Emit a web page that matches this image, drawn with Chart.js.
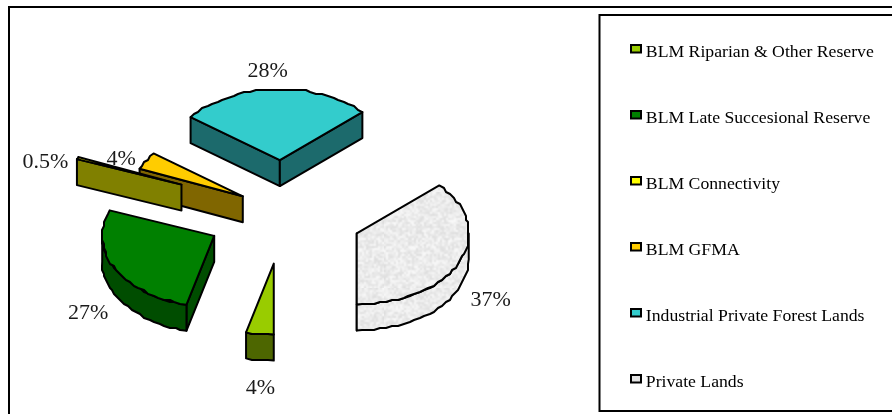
<!DOCTYPE html>
<html>
<head>
<meta charset="utf-8">
<style>
  html, body { margin: 0; padding: 0; background: #fff; }
  #wrap { width: 892px; height: 414px; }
</style>
<script src="https://cdn.jsdelivr.net/npm/chart.js@4"></script>
</head>
<body>
<div id="wrap"><canvas id="chart" width="892" height="414"></canvas></div>
<script>
// Land ownership shares, in legend order
const categories = [
  'BLM Riparian & Other Reserve',
  'BLM Late Succesional Reserve',
  'BLM Connectivity',
  'BLM GFMA',
  'Industrial Private Forest Lands',
  'Private Lands'
];
const shares = [4, 27, 0.5, 4, 28, 37];
const faceColors = ['#99CC00', '#008000', '#FFFF00', '#FFCC00', '#33CCCC', '#EBEBEB'];
const wallColors = ['#4D6600', '#004D00', '#808000', '#806600', '#1C6A6C', '#EFEFEF'];
const explode = [78, 78, 110, 47, 78, 80];
const labelAnchor = [[0, 53], [-30, 44], [-36, 5], [-28, -1], [-7, -17], [35, 38]];

const RX = 112, RY = 71, DEPTH = 26, TILT = 2 / 3;
const FIRST_SLICE_ANGLE = 180;
const SERIF = '"Liberation Serif", "Times New Roman", serif';

// Deterministic mottled tile for the stippled fill of the private-land slice
function mottledPattern() {
  const size = 96, coarse = document.createElement('canvas');
  coarse.width = coarse.height = size / 2;
  const c = coarse.getContext('2d');
  let seed = 12345;
  for (let y = 0; y < size / 2; y++) {
    for (let x = 0; x < size / 2; x++) {
      seed = (seed * 1103515245 + 12345) & 0x7fffffff;
      const g = 222 + ((seed >> 16) % 28);
      c.fillStyle = `rgb(${g},${g},${g})`;
      c.fillRect(x, y, 1, 1);
    }
  }
  const tile = document.createElement('canvas');
  tile.width = tile.height = size;
  const t = tile.getContext('2d');
  t.imageSmoothingEnabled = true;
  t.drawImage(coarse, 0, 0, size, size);
  return t.createPattern(tile, 'repeat');
}

// Small irregularities along an arc come from snapping to a coarse pixel grid
const snap = v => Math.round(v / 2) * 2;

function arcPoints(cx, cy, start, end, yShift) {
  const pts = [], steps = Math.max(2, Math.ceil((end - start) / 0.055));
  for (let i = 0; i <= steps; i++) {
    const a = start + (end - start) * i / steps;
    const edge = i === 0 || i === steps;
    const x = cx + Math.cos(a) * RX, y = cy + Math.sin(a) * RY + yShift;
    pts.push(edge ? [x, y] : [snap(x), snap(y)]);
  }
  return pts;
}

function tracePolygon(ctx, pts, close) {
  ctx.beginPath();
  pts.forEach((p, i) => i ? ctx.lineTo(p[0], p[1]) : ctx.moveTo(p[0], p[1]));
  if (close) ctx.closePath();
}

function paint(ctx, pts, fill) {
  tracePolygon(ctx, pts, true);
  ctx.fillStyle = fill;
  ctx.fill();
  ctx.stroke();
}

// Extruded, elliptically projected wedge built from the arc element's angles
function drawWedge(ctx, arc, index) {
  const mid = (arc.startAngle + arc.endAngle) / 2;
  const cx = arc.x + Math.cos(mid) * explode[index];
  const cy = arc.y + Math.sin(mid) * explode[index] * TILT;
  const s = arc.startAngle, e = arc.endAngle;
  const startPt = [cx + Math.cos(s) * RX, cy + Math.sin(s) * RY];
  const endPt = [cx + Math.cos(e) * RX, cy + Math.sin(e) * RY];
  const wall = wallColors[index] === '#EFEFEF' ? arc.options.backgroundColor : wallColors[index];

  // A radial wall faces the viewer only when the wedge lies above that edge
  const faces = (ang, sign) => Math.cos(ang) * sign > 0;
  if (faces(s, -1)) {
    paint(ctx, [[cx, cy], startPt, [startPt[0], startPt[1] + DEPTH], [cx, cy + DEPTH]], wall);
  }
  if (faces(e, 1)) {
    paint(ctx, [[cx, cy], endPt, [endPt[0], endPt[1] + DEPTH], [cx, cy + DEPTH]], wall);
  }

  // Curved wall: the part of the rim on the near half of the ellipse
  const two = Math.PI * 2;
  for (const k of [0, 1]) {
    const lo = Math.max(s, k * two), hi = Math.min(e, Math.PI + k * two);
    if (hi > lo) {
      const top = arcPoints(cx, cy, lo, hi, 0);
      const bottom = arcPoints(cx, cy, lo, hi, DEPTH).reverse();
      paint(ctx, top.concat(bottom), wall);
    }
  }

  paint(ctx, [[cx, cy]].concat(arcPoints(cx, cy, s, e, 0)), arc.options.backgroundColor);
}

const wedgePlugin = {
  id: 'wedges',
  beforeDraw(chart) {
    const ctx = chart.ctx;
    ctx.save();
    ctx.fillStyle = '#fff';
    ctx.fillRect(0, 0, chart.width, chart.height);
    ctx.strokeStyle = '#000';
    ctx.lineWidth = 2;
    ctx.strokeRect(9, 7, chart.width + 20, chart.height + 20);
    ctx.strokeRect(599.5, 15, chart.width, 396);
    ctx.restore();
  },
  afterLayout(chart) {
    // Pie is centred in the frame's left part; legend column keeps its own place
    Object.assign(chart.chartArea, { left: 9, right: 558, top: 10, bottom: 414, width: 549, height: 404 });
    const legend = chart.legend;
    const w = legend.width;
    legend.left = 630;
    legend.right = 630 + w;
    legend.top = 19;
    legend.bottom = 19 + legend.height;
  },
  beforeDatasetDraw(chart, args) {
    const ctx = chart.ctx;
    const arcs = chart.getDatasetMeta(args.index).data;
    const order = arcs.map((_, i) => i).sort((a, b) => {
      const m = i => (arcs[i].startAngle + arcs[i].endAngle) / 2;
      return Math.sin(m(a)) - Math.sin(m(b));
    });
    ctx.save();
    ctx.lineWidth = 2;
    ctx.strokeStyle = '#000';
    ctx.lineJoin = 'round';
    order.forEach(i => drawWedge(ctx, arcs[i], i));

    // Percentage labels sit just beyond each slice's rim
    ctx.font = '22px ' + SERIF;
    ctx.fillStyle = '#1a1a1a';
    ctx.textAlign = 'center';
    ctx.textBaseline = 'middle';
    arcs.forEach((arc, i) => {
      const mid = (arc.startAngle + arc.endAngle) / 2;
      const reach = explode[i] + 108;
      const lx = arc.x + Math.cos(mid) * reach + labelAnchor[i][0];
      const ly = arc.y + Math.sin(mid) * reach * TILT + labelAnchor[i][1];
      ctx.fillText(shares[i] + '%', lx, ly);
    });
    ctx.restore();
    return false;
  },
  afterDraw(chart) {
    // Legend swatches
    const ctx = chart.ctx;
    ctx.save();
    ctx.lineWidth = 2;
    ctx.strokeStyle = '#000';
    chart.legend.legendHitBoxes.forEach((box, i) => {
      const y = Math.round(box.top + box.height / 2) - 7;
      ctx.fillStyle = faceColors[i] === '#EBEBEB' ? '#E3E3E3' : faceColors[i];
      ctx.fillRect(631, y, 10, 7.5);
      ctx.strokeRect(631, y, 10, 7.5);
    });
    ctx.restore();
  }
};

const pattern = mottledPattern();

new Chart(document.getElementById('chart'), {
  type: 'pie',
  plugins: [wedgePlugin],
  data: {
    labels: categories,
    datasets: [{
      data: shares,
      backgroundColor: faceColors.map(c => c === '#EBEBEB' ? pattern : c),
      borderColor: '#000',
      borderWidth: 2
    }]
  },
  options: {
    responsive: false,
    animation: false,
    rotation: FIRST_SLICE_ANGLE,
    radius: RX,
    layout: { padding: { top: 15, right: 0 } },
    plugins: {
      tooltip: { enabled: false },
      legend: {
        display: true,
        position: 'right',
        align: 'start',
        labels: {
          color: '#1a1a1a',
          boxWidth: 7,
          boxHeight: 66,
          padding: 0,
          font: { family: SERIF, size: 17.7 },
          generateLabels: chart => chart.data.labels.map((text, i) => ({
            text, index: i, fillStyle: 'rgba(0,0,0,0)', strokeStyle: 'rgba(0,0,0,0)', lineWidth: 0
          }))
        }
      }
    }
  }
});
</script>
</body>
</html>
